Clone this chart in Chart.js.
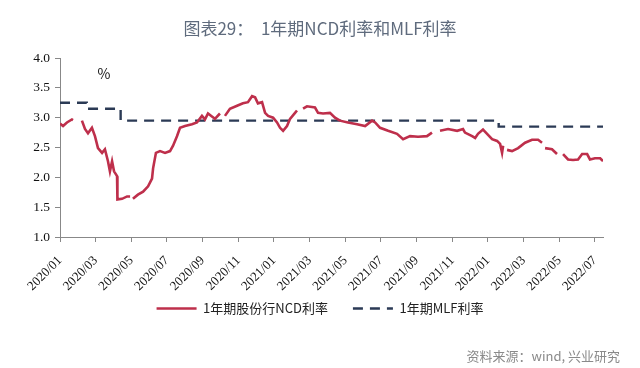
<!DOCTYPE html>
<html>
<head>
<meta charset="utf-8">
<script src="https://cdn.jsdelivr.net/npm/chart.js@4/dist/chart.umd.min.js"></script>
<style>
  html, body { margin: 0; padding: 0; background: #ffffff; }
  #wrap { width: 640px; height: 368px; }
</style>
</head>
<body>
<div id="wrap"><canvas id="c" width="640" height="368"></canvas></div>
<script>
// ---- data (x = months since 2020/01) ----
const tickLabels = ["2020/01","2020/03","2020/05","2020/07","2020/09","2020/11","2021/01","2021/03",
                    "2021/05","2021/07","2021/09","2021/11","2022/01","2022/03","2022/05","2022/07"];

const ncdMonths = [0.00,0.17,0.39,0.67,0.73,1.00,1.23,1.40,1.57,1.79,1.96,2.13,2.36,2.52,2.69,2.80,2.92,3.03,3.20,3.22,
  3.48,3.76,3.93,4.00,4.09,4.37,4.66,4.94,5.16,5.22,5.38,5.61,5.89,6.17,6.34,6.56,6.73,7.01,7.40,7.68,
  7.96,8.13,8.30,8.52,8.69,8.97,9.10,9.25,9.53,9.93,10.26,10.54,10.77,10.94,11.10,11.33,11.50,11.67,11.95,12.17,
  12.34,12.51,12.73,12.90,13.18,13.29,13.40,13.63,13.85,14.30,14.47,14.75,15.14,15.42,15.70,16.15,16.66,17.11,17.50,17.67,
  17.95,18.40,18.90,19.24,19.63,20.08,20.58,20.86,21.00,21.31,21.76,22.27,22.60,22.71,23.11,23.28,23.44,23.72,23.95,24.23,
  24.51,24.68,24.79,24.85,25.00,25.07,25.35,25.69,26.08,26.47,26.81,27.03,27.10,27.20,27.59,27.87,28.00,28.21,28.49,28.77,
  29.05,29.28,29.56,29.72,30.00,30.29,30.45];
const ncdValues = [2.90,2.86,2.92,2.97,2.96,null,2.95,2.81,2.74,2.83,2.69,2.49,2.41,2.47,2.27,2.10,2.27,2.10,2.02,1.63,
  1.64,1.68,1.68,null,1.64,1.71,1.76,1.85,1.98,2.15,2.41,2.44,2.41,2.44,2.53,2.69,2.83,2.86,2.89,2.92,
  3.03,2.97,3.07,3.02,2.98,3.07,null,3.03,3.15,3.20,3.24,3.26,3.36,3.34,3.24,3.26,3.08,3.03,3.00,2.92,
  2.83,2.78,2.86,2.98,3.08,3.12,null,3.15,3.19,3.17,3.08,3.07,3.08,3.00,2.95,2.92,2.89,2.86,2.95,2.92,
  2.83,2.78,2.73,2.64,2.69,2.68,2.69,2.75,null,2.78,2.81,2.78,2.81,2.75,2.69,2.66,2.73,2.80,2.73,2.64,
  2.61,2.56,2.41,2.53,null,2.46,2.44,2.49,2.58,2.63,2.63,2.58,null,2.49,2.47,2.39,null,2.39,2.30,2.29,
  2.30,2.39,2.39,2.30,2.32,2.32,2.27];

const mlfMonths = [0, 1.50, 3.40, 24.60, 30.45];
const mlfValues = [3.25, 3.15, 2.95, 2.85, 2.85];

const seriesNames = ["1年期股份行NCD利率", "1年期MLF利率"];
const titleText = "图表29：  1年期NCD利率和MLF利率";
const unitText = "%";
const sourceText = "资料来源：wind, 兴业研究";

const toPts = (xs, ys) => xs.map((x, i) => ({ x: x, y: ys[i] }));

const serif = "'Liberation Serif', 'Times New Roman', serif";
const cjk = "'Noto Sans CJK SC', 'Noto Sans', sans-serif";

const extraText = {
  id: 'extraText',
  afterDraw(chart) {
    const ctx = chart.ctx;
    const ca = chart.chartArea;
    ctx.save();
    ctx.fillStyle = '#111';
    ctx.font = "14px " + cjk;
    ctx.textAlign = 'center';
    ctx.textBaseline = 'middle';
    ctx.fillText(unitText, ca.left + 44, ca.top + 16);
    ctx.fillStyle = '#8a8a8a';
    ctx.font = "13px " + cjk;
    ctx.textAlign = 'right';
    ctx.fillText(sourceText, 620, 356);
    ctx.restore();
  }
};

new Chart(document.getElementById('c'), {
  type: 'line',
  data: {
    datasets: [
      {
        label: seriesNames[0],
        data: toPts(ncdMonths, ncdValues),
        borderColor: '#BE2F4B',
        backgroundColor: '#BE2F4B',
        borderWidth: 2.6,
        pointRadius: 0,
        tension: 0,
        spanGaps: false
      },
      {
        label: seriesNames[1],
        data: toPts(mlfMonths, mlfValues),
        borderColor: '#2B3A55',
        backgroundColor: '#2B3A55',
        borderWidth: 2.4,
        borderDash: [10, 7],
        pointRadius: 0,
        stepped: 'before'
      }
    ]
  },
  options: {
    responsive: false,
    animation: false,
    layout: { padding: { left: 0, right: 0, top: 0, bottom: 43 } },
    plugins: {
      title: {
        display: true,
        text: titleText,
        color: '#5f6b7d',
        font: { family: cjk, size: 17, weight: 'normal' },
        padding: { top: 18, bottom: 19.6 }
      },
      legend: {
        display: true,
        position: 'bottom',
        labels: {
          usePointStyle: true,
          pointStyle: 'line',
          pointStyleWidth: 40,
          boxHeight: 13,
          padding: 25,
          color: '#222',
          font: { family: cjk, size: 13 },
          generateLabels: (chart) => {
            const items = Chart.defaults.plugins.legend.labels.generateLabels(chart);
            return items.map((it) => {
              const ds = chart.data.datasets[it.datasetIndex];
              it.lineDash = ds.borderDash || [];
              it.lineWidth = ds.borderWidth;
              it.strokeStyle = ds.borderColor;
              it.fillStyle = ds.borderColor;
              it.pointStyle = 'line';
              return it;
            });
          }
        }
      },
      tooltip: { enabled: false }
    },
    scales: {
      x: {
        type: 'linear',
        min: 0,
        max: 30.45,
        afterFit: (s) => {
          s.height = 40;
          // let rotated labels overflow the (shortened) axis box instead of being clipped
          s._computeLabelArea = () => undefined;
        },
        afterBuildTicks: (s) => { s.ticks = tickLabels.map((l, i) => ({ value: i * 2 })); },
        ticks: {
          autoSkip: false,
          minRotation: 45,
          maxRotation: 45,
          padding: 11,
          color: '#111',
          font: { family: serif, size: 13 },
          callback: (v) => tickLabels[Math.round(v / 2)]
        },
        grid: { display: true, drawOnChartArea: false, drawTicks: true, tickLength: 5, color: '#888' },
        border: { display: true, color: '#888', width: 1 }
      },
      y: {
        min: 1,
        max: 4,
        afterFit: (s) => { s.width = 60; },
        ticks: {
          stepSize: 0.5,
          padding: 5,
          color: '#111',
          font: { family: serif, size: 13.5 },
          callback: (v) => Number(v).toFixed(1)
        },
        grid: { display: true, drawOnChartArea: false, drawTicks: true, tickLength: 5, color: '#888' },
        border: { display: true, color: '#888', width: 1 }
      },
      yRightSpace: {
        position: 'right',
        min: 0,
        max: 1,
        display: true,
        afterFit: (s) => { s.width = 37; },
        ticks: { display: false },
        grid: { display: false, drawTicks: false },
        border: { display: false }
      }
    }
  },
  plugins: [extraText]
});
</script>
</body>
</html>
